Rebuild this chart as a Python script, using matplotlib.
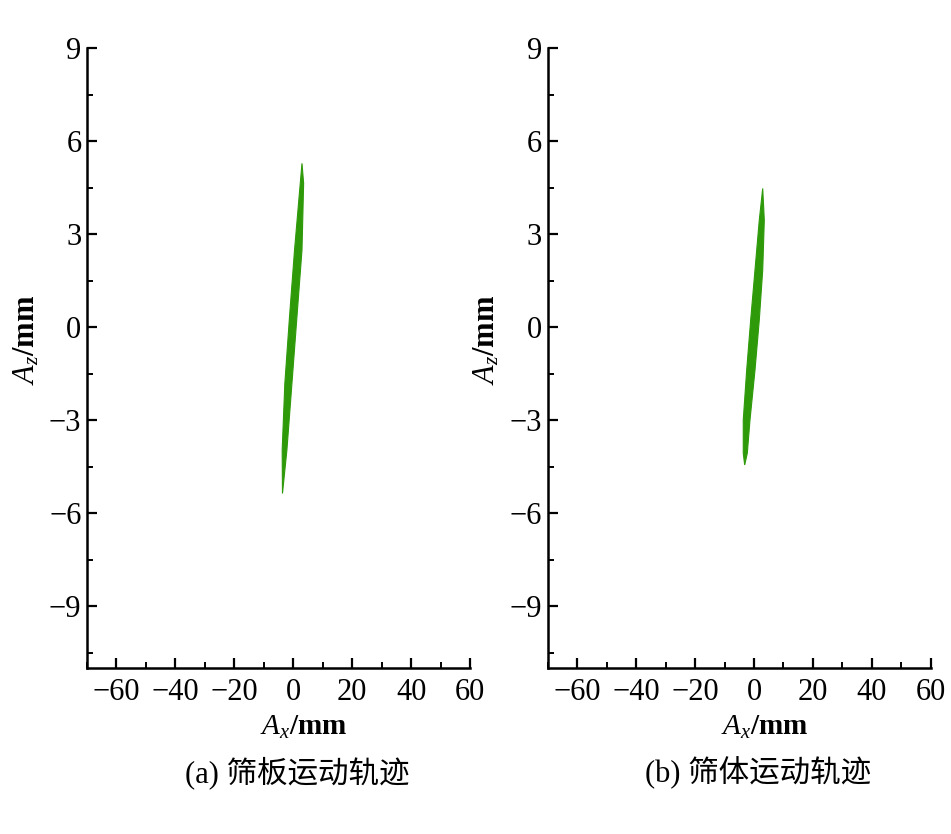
import matplotlib.pyplot as plt
import matplotlib.transforms as mtransforms
from matplotlib.ticker import MultipleLocator

plt.rcParams['font.family'] = ['Liberation Serif', 'Noto Sans CJK SC']
plt.rcParams['mathtext.fontset'] = 'custom'
plt.rcParams['mathtext.rm'] = 'Liberation Serif'
plt.rcParams['mathtext.it'] = 'Liberation Serif:italic'

# outline of the trajectory band (Ax, Az in mm)
# (a) screen plate: right edge bottom->top, then left edge top->bottom
plate_ax = [-3.65, -2.15, -0.44, 1.26, 2.97, 3.53, 2.97,
            2.39, 0.44, -1.26, -2.85, -3.75, -3.65]
plate_az = [-5.37, -3.97, -1.82, 0.33, 2.48, 4.64, 5.28,
            4.64, 2.48, 0.33, -1.82, -3.97, -5.37]
# (b) screen body
body_ax = [-3.16, -2.27, -1.36, 0.34, 1.80, 2.96, 3.50, 2.96,
           1.80, 0.34, -1.12, -2.48, -3.64, -3.64, -3.16]
body_az = [-4.45, -4.07, -3.00, -1.39, 0.23, 1.84, 3.45, 4.47,
           3.45, 1.84, 0.23, -1.39, -3.00, -4.07, -4.45]

captions = ['(a) 筛板运动轨迹', '(b) 筛体运动轨迹']
xticks = [-60, -40, -20, 0, 20, 40, 60]
yticks = [-9, -6, -3, 0, 3, 6, 9]

fig = plt.figure(figsize=(9.51, 8.34), dpi=100)
ax1 = fig.add_axes([0.0915, 0.199, 0.4027, 0.7434])
ax2 = fig.add_axes([0.576, 0.199, 0.4027, 0.7434])
green = '#2E9A0A'

for ax, xs, zs, cap in [(ax1, plate_ax, plate_az, captions[0]),
                        (ax2, body_ax, body_az, captions[1])]:
    ax.fill(xs, zs, color=green, lw=0.8, ec=green)
    ax.set_xlim(-70, 60)
    ax.set_ylim(-11, 9)
    ax.set_xticks(xticks)
    ax.set_yticks(yticks)
    ax.set_xticklabels([f'{t}'.replace('-', '\u2212') for t in xticks])
    ax.set_yticklabels([f'{t}'.replace('-', '\u2212') for t in yticks])
    ax.xaxis.set_minor_locator(MultipleLocator(10))
    ax.yaxis.set_minor_locator(MultipleLocator(1.5))
    ax.spines['top'].set_visible(False)
    ax.spines['right'].set_visible(False)
    for s in ('left', 'bottom'):
        ax.spines[s].set_linewidth(1.8)
    ax.tick_params(which='major', direction='in', length=7, width=1.6,
                   labelsize=22)
    ax.tick_params(axis='y', which='major', pad=4)
    ax.tick_params(axis='x', which='major', pad=7)
    ax.tick_params(which='minor', direction='in', length=4, width=1.4)
    ax.set_ylabel(r'$A_z$/mm', fontsize=22, fontweight='bold')
    ax.yaxis.set_label_coords(-0.12, 0.53)
    trans = mtransforms.blended_transform_factory(ax.transData, fig.transFigure)
    ax.text(3.5, 1 - 727 / 834, r'$A_x$/mm', transform=trans, fontsize=21,
            fontweight='bold', ha='center', va='center')
    ax.text(1.5, 1 - 773 / 834, cap, transform=trans, fontsize=22,
            ha='center', va='center')

fig.savefig('out.png', dpi=100)
